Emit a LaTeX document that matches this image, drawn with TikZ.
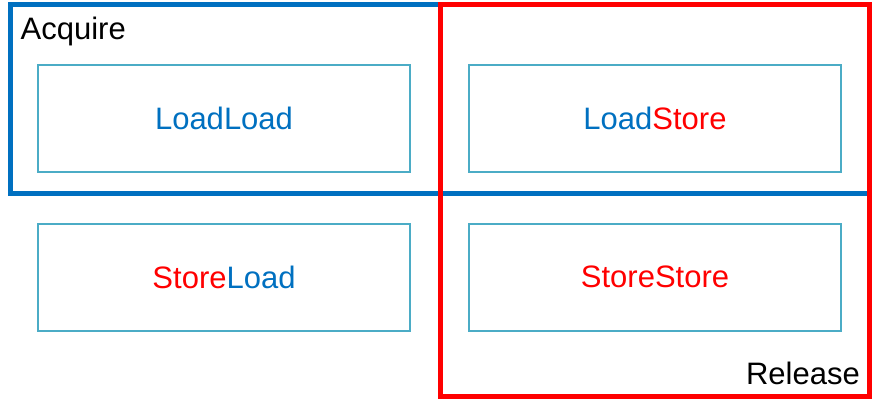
\documentclass[tikz,border=0pt]{standalone}
\usepackage{fontspec}
\setmainfont{Liberation Sans}
\usetikzlibrary{positioning}
\definecolor{acqblue}{HTML}{0070C0}
\definecolor{relred}{HTML}{FF0000}
\definecolor{fencecyan}{HTML}{4BACC6}
\newcommand{\ld}{\textcolor{acqblue}{Load}}
\newcommand{\st}{\textcolor{relred}{Store}}
\newcommand{\fence}[3]{%
 \node[fencebox] ({#1}) at ({#2}) {#3};%
}
\tikzset{
  fencebox/.style={draw=fencecyan, line width=2pt, minimum width=372pt, minimum height=107pt, inner sep=0pt},
  every node/.style={font=\fontsize{31}{37}\selectfont}
}
\begin{document}
\begin{tikzpicture}[x=1pt,y=-1pt]
  \useasboundingbox (0,0) rectangle (880,412);
  \fence{LL}{224,118.5}{\ld\ld};
  \fence{LS}{655,118.5}{\ld\st};
  \fence{SL}{224,277}{\st\ld};
  \fence{SS}{655,277}{\st\st};
  \draw[acqblue,line width=5pt] (10,5) rectangle (869.5,193.5);
  \draw[relred,line width=5pt] (440,5) rectangle (869.5,396);
  \node[anchor=base west,inner sep=0pt] (acq) at (20.5,40) {Acquire};
  \node[anchor=base east,inner sep=0pt] (rel) at (860,384) {Release};
 \end{tikzpicture}
\end{document}
